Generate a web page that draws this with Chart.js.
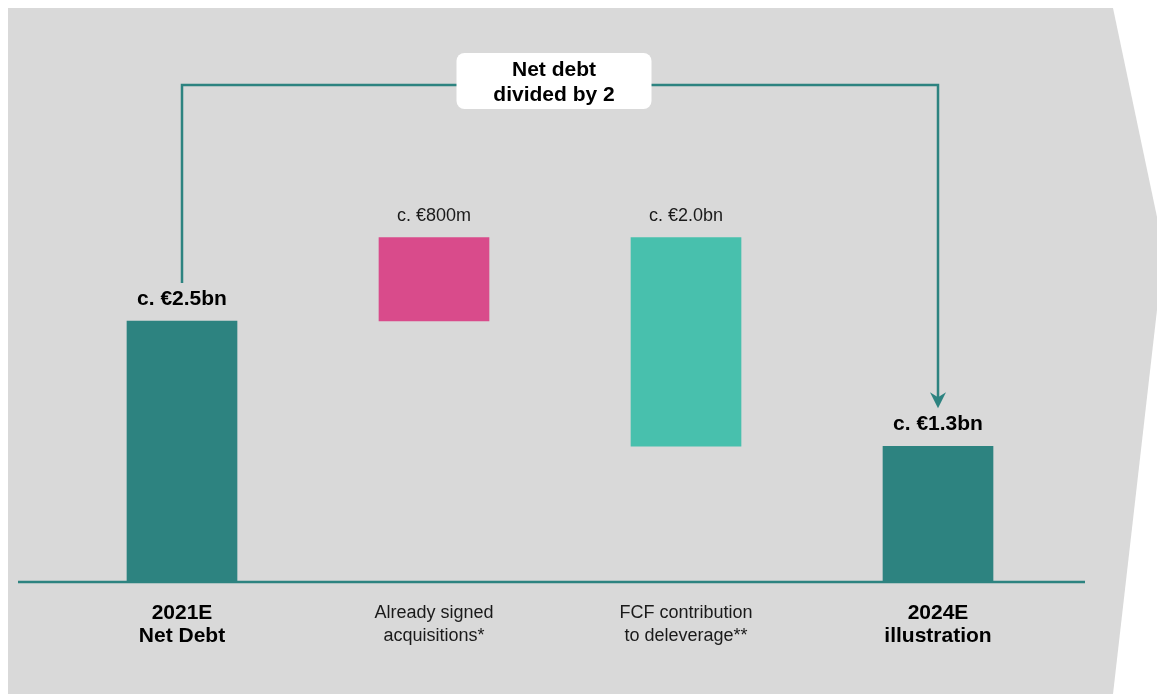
<!DOCTYPE html>
<html>
<head>
<meta charset="utf-8">
<script src="https://cdn.jsdelivr.net/npm/chart.js@4/dist/chart.umd.min.js"></script>
<style>
  html, body { margin: 0; padding: 0; background: #fff; }
  #wrap { width: 1157px; height: 694px; position: relative; }
</style>
</head>
<body>
<div id="wrap"><canvas id="bridge"></canvas></div>
<script>
// chart values
var categories = [['2021E', 'Net Debt'], ['Already signed', 'acquisitions*'], ['FCF contribution', 'to deleverage**'], ['2024E', 'illustration']];
var barStart = [0, 2.5, 1.3, 0];
var barEnd = [2.5, 3.3, 3.3, 1.3];
var valueLabels = ['c. €2.5bn', 'c. €800m', 'c. €2.0bn', 'c. €1.3bn'];
var isTotal = [true, false, false, true];
var barColors = ['#2d8380', '#d94b8b', '#48c0ad', '#2d8380'];
var calloutText = ['Net debt', 'divided by 2'];

var FONT = '"Liberation Sans", Arial, Helvetica, sans-serif';
var TEAL = '#2d8380';

function createBarData(){
    var data = [];
    for (var i = 0; i < categories.length; i++) {
        data.push([barStart[i], barEnd[i]]);
    }
    return data;
}

// grey arrow-shaped panel behind the chart
var panelPlugin = {
    id: 'panel',
    beforeDraw: function(chart){
        var ctx = chart.ctx;
        var w = chart.width, h = chart.height;
        ctx.save();
        ctx.fillStyle = '#ffffff';
        ctx.fillRect(0, 0, w, h);
        ctx.fillStyle = '#d9d9d9';
        ctx.beginPath();
        ctx.moveTo(8, 8);
        ctx.lineTo(w - 44, 8);
        ctx.lineTo(w, 217);
        ctx.lineTo(w, 310);
        ctx.lineTo(w - 44, h);
        ctx.lineTo(8, h);
        ctx.closePath();
        ctx.fill();
        ctx.restore();
    }
};

// baseline, value labels, connector and callout box
var annotatePlugin = {
    id: 'annotate',
    afterDatasetsDraw: function(chart){
        var ctx = chart.ctx;
        var area = chart.chartArea;
        var meta = chart.getDatasetMeta(0);
        ctx.save();

        // baseline
        ctx.strokeStyle = TEAL;
        ctx.lineWidth = 2.5;
        ctx.beginPath();
        ctx.moveTo(area.left - 38, area.bottom);
        ctx.lineTo(area.right + 21, area.bottom);
        ctx.stroke();

        // value labels
        ctx.textAlign = 'center';
        ctx.textBaseline = 'middle';
        var tops = [];
        meta.data.forEach(function(bar, i){
            var top = Math.min(bar.y, bar.base);
            tops.push(top);
            if (isTotal[i]) {
                ctx.font = 'bold 21px ' + FONT;
                ctx.fillStyle = '#000';
                ctx.fillText(valueLabels[i], bar.x, top - 22);
            } else {
                ctx.font = '18px ' + FONT;
                ctx.fillStyle = '#1a1a1a';
                ctx.fillText(valueLabels[i], bar.x, top - 21);
            }
        });

        // connector from first total to last total
        var last = meta.data.length - 1;
        var x0 = meta.data[0].x, x1 = meta.data[last].x;
        var yLine = area.top + 25;
        var yStart = tops[0] - 38;
        var yEnd = tops[last] - 38;
        ctx.strokeStyle = TEAL;
        ctx.lineWidth = 2.5;
        ctx.lineJoin = 'miter';
        ctx.beginPath();
        ctx.moveTo(x0, yStart);
        ctx.lineTo(x0, yLine);
        ctx.lineTo(x1, yLine);
        ctx.lineTo(x1, yEnd - 10);
        ctx.stroke();
        ctx.fillStyle = TEAL;
        ctx.beginPath();
        ctx.moveTo(x1, yEnd);
        ctx.lineTo(x1 - 8, yEnd - 16);
        ctx.lineTo(x1, yEnd - 11);
        ctx.lineTo(x1 + 8, yEnd - 16);
        ctx.closePath();
        ctx.fill();

        // callout box
        var cx = (x0 + x1) / 2 - 6;
        var bw = 195, bh = 56;
        ctx.fillStyle = '#ffffff';
        ctx.beginPath();
        ctx.roundRect(cx - bw / 2, yLine - 32, bw, bh, 8);
        ctx.fill();
        ctx.fillStyle = '#000';
        ctx.font = 'bold 21px ' + FONT;
        ctx.fillText(calloutText[0], cx, yLine - 15);
        ctx.fillText(calloutText[1], cx, yLine + 10);

        ctx.restore();
    }
};

var ctx = document.getElementById('bridge').getContext('2d');
var chart = new Chart(ctx, {
    type: 'bar',
    data: {
        labels: categories,
        datasets: [{
            data: createBarData(),
            backgroundColor: barColors,
            borderWidth: 0,
            barThickness: 110
        }]
    },
    options: {
        responsive: true,
        maintainAspectRatio: false,
        animation: false,
        layout: {
            padding: { left: 56, right: 93, top: 60, bottom: 0 }
        },
        plugins: {
            legend: { display: false },
            tooltip: { enabled: false }
        },
        scales: {
            x: {
                grid: { display: false, drawTicks: false },
                border: { display: false },
                afterFit: function(scale){ scale.height = 112; },
                ticks: {
                    padding: 19,
                    maxRotation: 0,
                    autoSkip: false,
                    color: function(c){ return isTotal[c.index] ? '#000' : '#1a1a1a'; },
                    font: function(c){
                        return isTotal[c.index]
                            ? { family: FONT, size: 21, weight: 'bold', lineHeight: '23.5px' }
                            : { family: FONT, size: 18, weight: 'normal', lineHeight: '23.5px' };
                    }
                }
            },
            y: {
                display: false,
                min: 0,
                max: 5
            }
        }
    },
    plugins: [panelPlugin, annotatePlugin]
});
</script>
</body>
</html>
